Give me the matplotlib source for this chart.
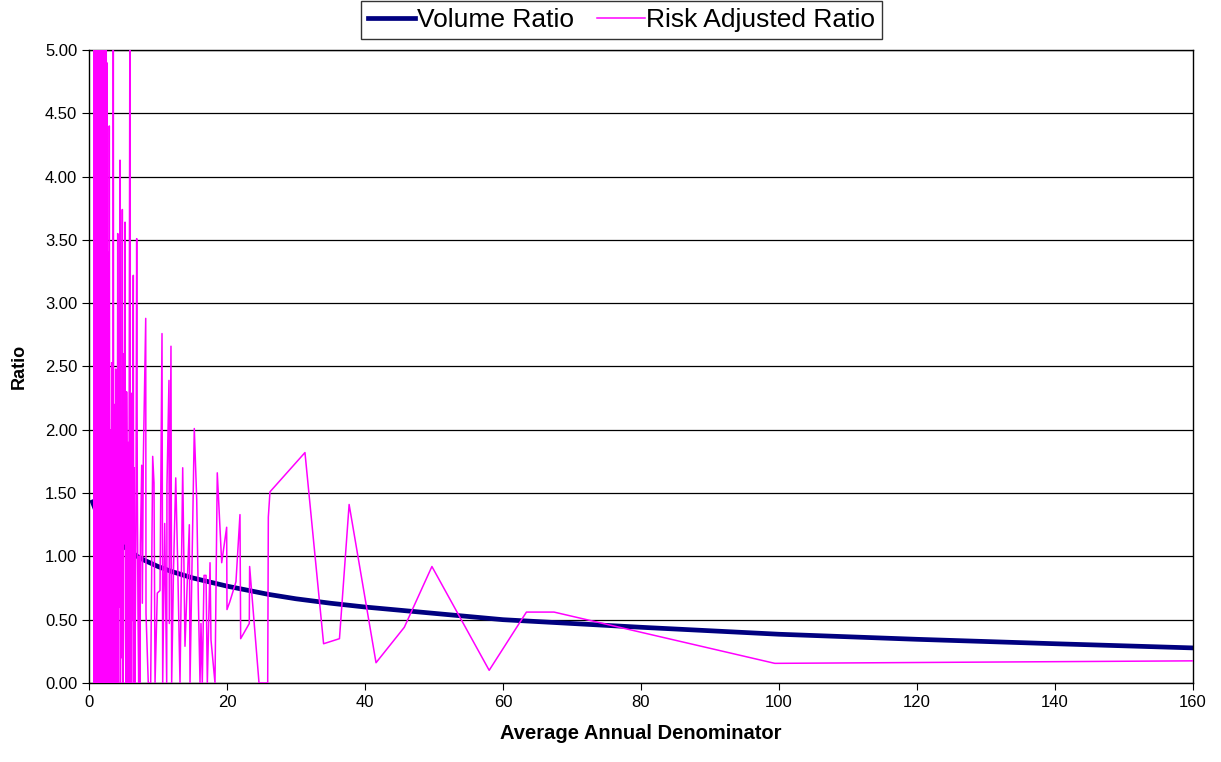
import matplotlib.pyplot as plt
from matplotlib.ticker import FormatStrFormatter

plt.rcParams['font.family'] = ['Liberation Sans', 'DejaVu Sans']

# Volume Ratio (smooth curve)
vol_x = [0.5, 1, 2, 3, 4, 5, 6, 7, 8, 10, 12, 15, 20, 26, 30, 35, 40,
         50, 60, 70, 80, 100, 120, 140, 160]
vol_y = [1.43, 1.36, 1.26, 1.19, 1.13, 1.08, 1.04, 1.00, 0.97, 0.92, 0.88,
         0.83, 0.765, 0.70, 0.665, 0.63, 0.60, 0.55, 0.50, 0.47, 0.44,
         0.385, 0.345, 0.31, 0.277]

# Risk Adjusted Ratio, dense part (x < 9)
dense_x = [0.72, 0.76, 0.80, 0.84, 0.88, 0.92, 0.96, 1.00, 1.04, 1.08,
           1.12, 1.16, 1.20, 1.24, 1.28, 1.32, 1.36, 1.40, 1.44, 1.48,
           1.52, 1.56, 1.60, 1.64, 1.68, 1.72, 1.76, 1.80, 1.84, 1.88,
           1.92, 1.96, 2.00, 2.04, 2.08, 2.12, 2.16, 2.20, 2.24, 2.28,
           2.32, 2.38, 2.44, 2.50, 2.54, 2.57, 2.62, 2.70, 2.76, 2.85,
           2.90, 2.94, 3.00, 3.05, 3.12, 3.20, 3.29, 3.35, 3.42, 3.47,
           3.52, 3.58, 3.66, 3.70, 3.75, 3.81, 3.87, 3.93, 3.98, 4.05,
           4.10, 4.16, 4.23, 4.30, 4.38, 4.49, 4.55, 4.62, 4.70, 4.83,
           4.90, 4.95, 5.02, 5.10, 5.22, 5.28, 5.35, 5.45, 5.55, 5.62,
           5.70, 5.75, 5.94, 6.00, 6.09, 6.16, 6.22, 6.30, 6.42, 6.48,
           6.55, 6.65, 6.80, 6.91, 7.00, 7.10, 7.20, 7.30, 7.38, 7.45,
           7.64, 7.73, 7.87, 8.22, 8.26, 8.59, 8.94]
dense_y = [0.0, 7.0, 0.0, 8.5, 0.4, 6.2, 0.0, 9.0, 1.2, 5.8,
           0.0, 7.5, 0.3, 6.4, 0.0, 8.2, 0.9, 5.5, 0.0, 9.8,
           0.2, 6.1, 0.0, 7.7, 0.6, 5.3, 0.0, 8.8, 1.5, 6.6,
           0.0, 5.9, 0.4, 7.1, 0.0, 5.4, 1.1, 6.3, 0.0, 5.1,
           0.7, 6.0, 0.0, 5.2, 0.3, 4.90, 0.0, 2.2, 0.5, 3.4,
           0.0, 4.40, 0.8, 0.0, 2.0, 0.6, 2.53, 0.0, 1.6, 0.3,
           5.6, 0.0, 2.2, 0.9, 1.8, 0.0, 2.48, 0.4, 0.0, 2.4,
           0.7, 3.55, 0.0, 1.9, 0.6, 4.13, 0.0, 1.5, 0.2, 3.74,
           0.9, 0.0, 2.6, 1.1, 3.64, 0.4, 0.0, 2.3, 1.4, 0.0,
           1.9, 0.0, 5.8, 0.0, 2.29, 0.0, 1.3, 0.5, 3.22, 0.0,
           1.7, 0.0, 1.2, 3.51, 1.54, 0.55, 0.0, 1.0, 0.0, 1.10,
           1.72, 0.63, 1.76, 2.88, 0.55, 0.0, 0.0]

# Risk Adjusted Ratio, middle part (9 - 27)
mid_x = [9.23, 9.42, 9.57, 9.90, 10.29, 10.58, 10.68, 10.97, 11.26, 11.30,
         11.59, 11.64, 11.88, 11.98, 12.25, 12.57, 12.85, 13.19, 13.58, 13.91,
         14.54, 14.64, 15.26, 15.61, 15.84, 16.09, 16.23, 16.42, 16.67, 16.96,
         17.15, 17.54, 17.68, 18.26, 18.59, 19.23, 19.95, 20.00, 20.40, 21.30,
         21.88, 21.98, 23.23, 23.28, 24.64, 25.90, 25.99, 26.23]
mid_y = [1.79, 1.58, 0.0, 0.71, 0.73, 2.76, 0.0, 1.26, 0.0, 1.56,
         2.39, 0.47, 2.66, 0.0, 0.9, 1.62, 0.95, 0.0, 1.70, 0.29,
         1.25, 0.0, 2.01, 1.45, 0.68, 0.0, 0.47, 0.0, 0.85, 0.85,
         0.0, 0.95, 0.34, 0.0, 1.66, 0.95, 1.23, 0.58, 0.64, 0.80,
         1.33, 0.35, 0.47, 0.92, 0.0, 0.0, 1.31, 1.51]

# Risk Adjusted Ratio, sparse tail
tail_x = [31.3, 34.0, 36.3, 37.7, 41.6, 45.7, 49.7, 58.0, 63.4, 67.4, 99.4, 160.5]
tail_y = [1.82, 0.31, 0.35, 1.41, 0.16, 0.44, 0.92, 0.10, 0.56, 0.56, 0.155, 0.175]

risk_x = dense_x + mid_x + tail_x
risk_y = dense_y + mid_y + tail_y

fig = plt.figure(figsize=(12.21, 7.62), dpi=100)
ax = fig.add_axes([0.0729, 0.1037, 0.9041, 0.8307])

ax.plot(vol_x, vol_y, color='#000080', lw=3.4, label='Volume Ratio', zorder=2)
ax.plot(risk_x, risk_y, color='#FF00FF', lw=1.1, label='Risk Adjusted Ratio', zorder=3)

ax.set_xlim(0, 160)
ax.set_ylim(0, 5)
ax.set_xticks(range(0, 161, 20))
ax.set_yticks([i * 0.5 for i in range(11)])
ax.yaxis.set_major_formatter(FormatStrFormatter('%.2f'))
ax.tick_params(labelsize=12, direction='out', length=5, color='black')
ax.yaxis.grid(True, color='black', lw=0.9)
ax.set_axisbelow(True)
for s in ax.spines.values():
    s.set_color('black')
    s.set_linewidth(1.0)

ax.set_xlabel('Average Annual Denominator', fontsize=14.5, fontweight='bold', labelpad=10)
ax.set_ylabel('Ratio', fontsize=13, fontweight='bold', labelpad=12)

leg = fig.legend(loc='upper center', bbox_to_anchor=(0.509, 1.0), ncol=2,
                 fontsize=19, frameon=True, fancybox=False, borderpad=0.25,
                 handlelength=1.8, handletextpad=0.05, columnspacing=0.9,
                 borderaxespad=0.05)
leg.get_frame().set_edgecolor('black')
leg.get_frame().set_linewidth(1.0)

plt.savefig('out.png', dpi=100)
